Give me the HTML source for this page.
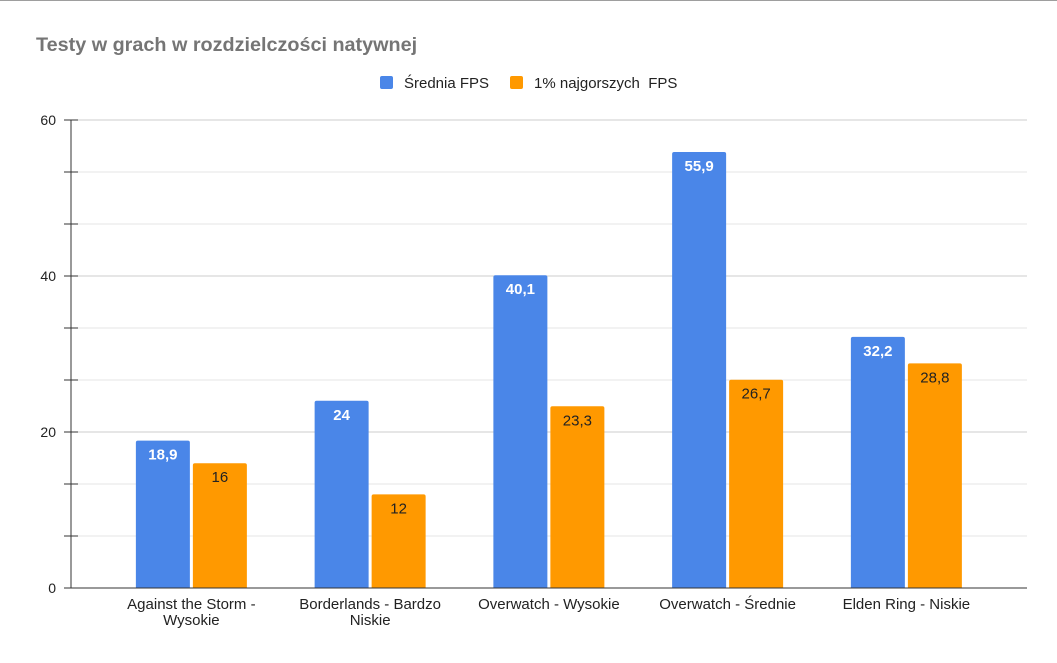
<!DOCTYPE html>
<html><head><meta charset="utf-8"><style>
body{margin:0;background:#fff;width:1057px;height:658px;overflow:hidden;font-family:"Liberation Sans",Arial,sans-serif}
</style></head><body>
<svg width="1057" height="658" id="c">
<line x1="0" y1="0.5" x2="1057" y2="0.5" stroke="#9e9e9e"/>
<text x="36" y="51" font-size="19.8" font-weight="bold" fill="#757575">Testy w grach w rozdzielczości natywnej</text>
<g>
<rect x="380" y="76" width="13" height="13" rx="2" fill="#4a86e8"/>
<text x="404" y="88" font-size="15" fill="#222">Średnia FPS</text>
<rect x="510" y="76" width="13" height="13" rx="2" fill="#ff9900"/>
<text x="534" y="88" font-size="15" fill="#222" xml:space="preserve">1% najgorszych  FPS</text>
</g>
<g id="grid"></g><g id="bars"></g><g id="axes"></g>
</svg>
<script>
const categories=[["Against the Storm -","Wysokie"],["Borderlands - Bardzo","Niskie"],["Overwatch - Wysokie"],["Overwatch - Średnie"],["Elden Ring - Niskie"]];
const avgFps=[18.9,24,40.1,55.9,32.2];
const lowFps=[16,12,23.3,26.7,28.8];
const yTicks=[0,20,40,60];
const ns="http://www.w3.org/2000/svg";
const y0=588,y60=120,yMax=60;
const yS=v=>y0-(v/yMax)*(y0-y60);
const bandStart=102,bandW=178.75,barW=54,gap=3;
function mk(t,a,p){const e=document.createElementNS(ns,t);for(const k in a)e.setAttribute(k,a[k]);p.appendChild(e);return e;}
const grid=document.getElementById('grid'),bars=document.getElementById('bars'),axes=document.getElementById('axes');
for(let i=1;i<=9;i++){const v=yMax*i/9;const y=yS(v);
const g=mk('line',{x1:71,x2:1027,y1:y,y2:y,stroke:i%3===0?'#cccccc':'#e6e6e6'},grid);


const t=mk('line',{x1:64,x2:78,y1:y,y2:y,stroke:'#333'},axes);

}
yTicks.forEach(v=>{const t=mk('text',{x:56,y:yS(v)+5,'text-anchor':'end','font-size':14,fill:'#222'},axes);t.textContent=v;

});
const ya=mk('line',{x1:71,x2:71,y1:y60,y2:y0,stroke:'#333'},axes);


const xa=mk('line',{x1:64,x2:1027,y1:y0,y2:y0,stroke:'#333'},axes);


function bar(x,v,col,txtCol,name){const y=yS(v);
const p=mk('path',{d:`M${x},${y0}V${y+2}Q${x},${y} ${x+2},${y}H${x+barW-2}Q${x+barW},${y} ${x+barW},${y+2}V${y0}Z`,fill:col},bars);


const t=mk('text',{x:x+barW/2,y:y+19,'text-anchor':'middle','font-size':15,fill:txtCol,'font-weight':txtCol==='#fff'?'bold':'normal'},bars);
t.textContent=String(v).replace('.',',');

}
categories.forEach((c,i)=>{const cx=bandStart+bandW*(i+0.5);
bar(cx-gap/2-barW,avgFps[i],'#4a86e8','#fff','bar-avg-'+i);
bar(cx+gap/2,lowFps[i],'#ff9900','#222','bar-low-'+i);
c.forEach((ln,j)=>{const t=mk('text',{x:cx,y:609+j*16,'text-anchor':'middle','font-size':15,fill:'#222'},axes);t.textContent=ln;

});});
</script>
</body></html>
